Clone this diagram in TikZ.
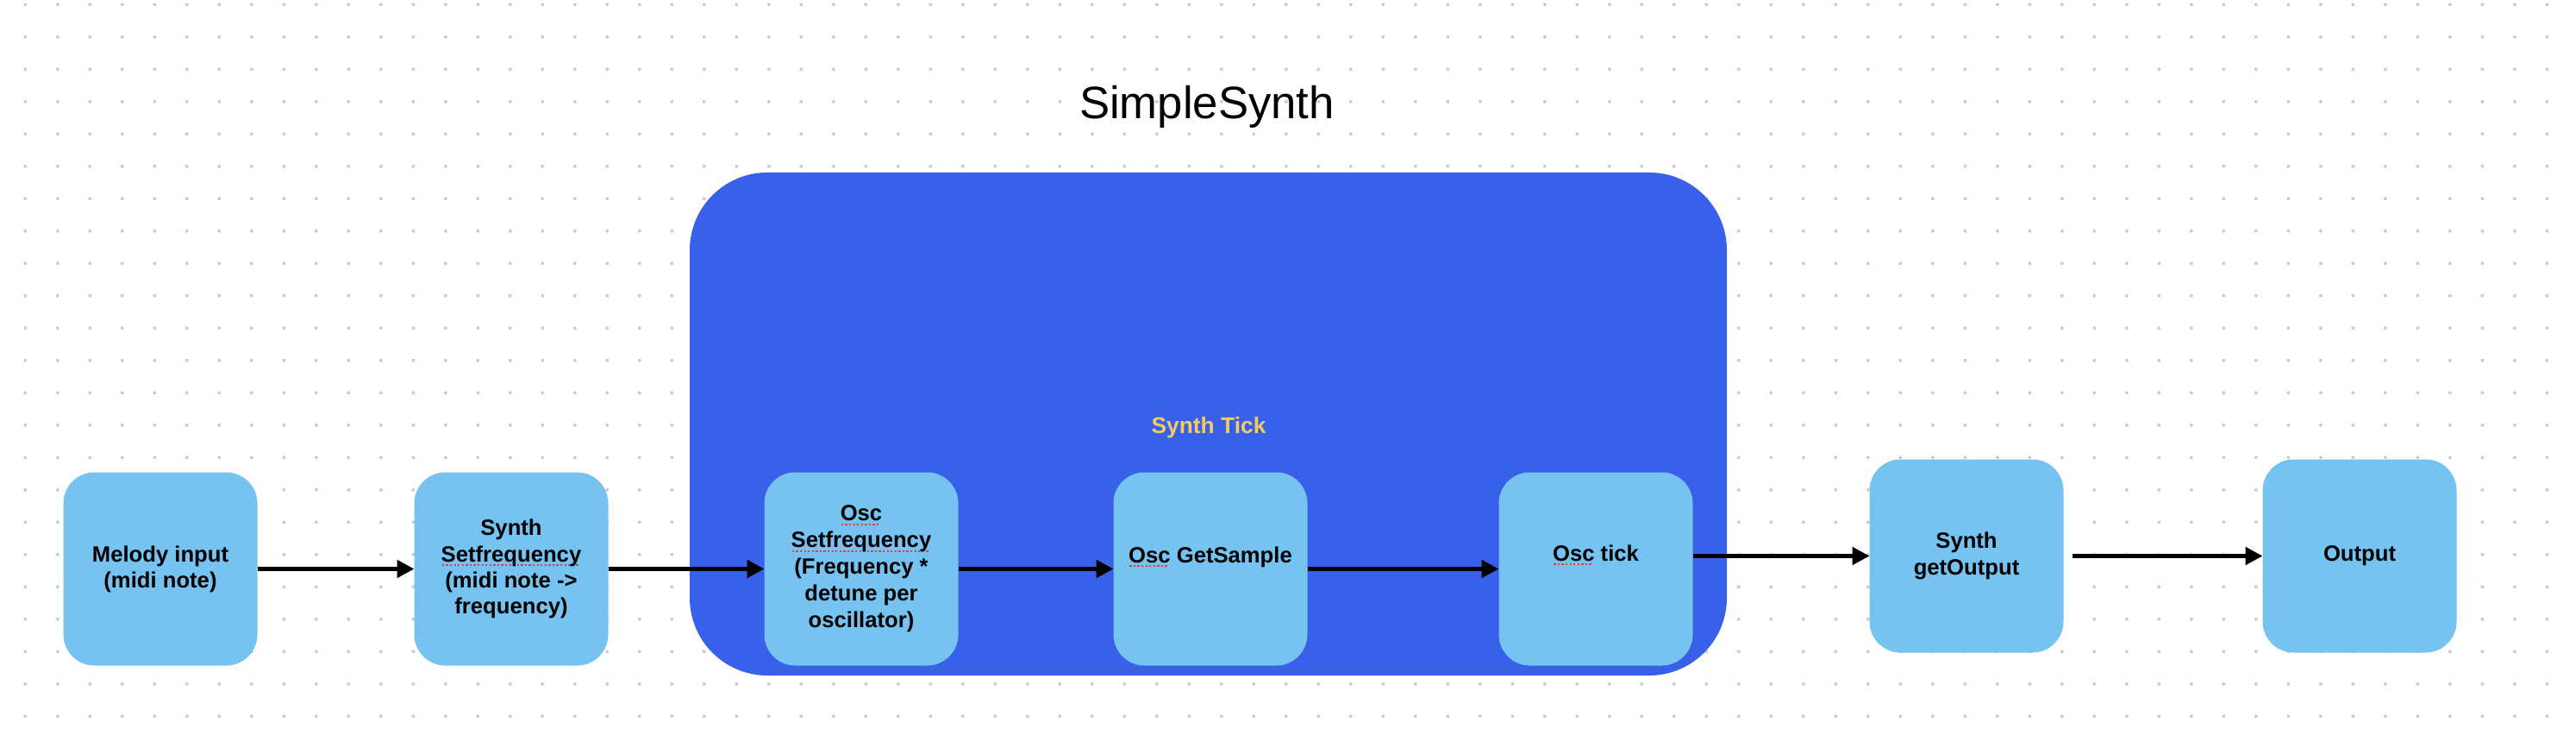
\documentclass[tikz,border=0pt]{standalone}
\usepackage{fontspec}
\setmainfont{Liberation Sans}
\usepackage{tikz}
\usetikzlibrary{positioning}
\usetikzlibrary{arrows.meta}

\definecolor{boxblue}{RGB}{118,194,240}
\definecolor{tickblue}{RGB}{56,96,233}
\definecolor{tickyellow}{RGB}{242,204,92}
\definecolor{dotgrey}{RGB}{204,204,208}
\definecolor{spellred}{RGB}{236,60,50}

% red dotted spell-check line under a word
\newcommand{\spellmark}[1]{%
    \setbox0=\hbox{#1}%
    \rlap{\raisebox{-1.4pt}{\color{spellred}\leaders\hbox to 1.3pt{\hss\rule{0.65pt}{0.6pt}\hss}\hskip\wd0}}%
    \box0\relax}

\begin{document}
\begin{tikzpicture}[
                block/.style = {
                    fill = boxblue,
                    rounded corners = 0.36cm,
                    minimum width = 2.25cm,
                    minimum height = 2.24cm,
                    align = center,
                    font = \bfseries\fontsize{7.3}{8.6}\selectfont,
                    inner sep = 0pt,
                    outer sep = 0pt
                },
                group/.style = {
                    fill = tickblue,
                    rounded corners = 0.9cm,
                    minimum width = 12.03cm,
                    minimum height = 5.83cm,
                    inner sep = 0pt
                },
                flow/.style = {
                    draw,
                    line width = 0.05cm,
                    -{Triangle[length=0.2cm, width=0.2cm]}
                },
                node distance = {1.82cm}
            ]

            \useasboundingbox (0,0) rectangle (29.88,-8.52);

            % dotted canvas
            \foreach \i in {0,...,78}
                \foreach \j in {0,...,22}
                    \fill[dotgrey] (0.293+0.375*\i, -0.053-0.375*\j) circle (0.02);

            \node[anchor=base, font=\fontsize{15}{18}\selectfont] (title) at (14.0,-1.38) {SimpleSynth};

            \node[group] (tick) at (14.015,-4.915) {};
            \node[anchor=base, text=tickyellow, font=\bfseries\fontsize{7.5}{9}\selectfont] (ticklabel) at (14.02,-5.03) {Synth Tick};

            \node[block] (melody) at (1.86,-6.595) {Melody input\\(midi note)};
            \node[block, right=1.82cm of melody] (synthfreq) {Synth\\\spellmark{Setfrequency}\\(midi note ->\\frequency)};
            \node[block, right=1.81cm of synthfreq, font=\bfseries\fontsize{7.3}{8.8}\selectfont] (oscfreq) {\spellmark{Osc}\\\spellmark{Setfrequency}\\(Frequency *\\detune per\\oscillator)};
            \node[block, right=1.80cm of oscfreq] (getsample) {};
            \node[block, right=2.22cm of getsample] (osctick) {};

            \node[block, right=2.05cm of osctick, yshift=0.15cm] (getout) {Synth\\getOutput};
            \node[block, right=2.31cm of getout] (output) {Output};

            % text sits a bit above the middle in these two
            \node[font=\bfseries\fontsize{7.3}{8.6}\selectfont, yshift=0.14cm] (getsampletext) at (getsample) {\spellmark{Osc} GetSample};
            \node[font=\bfseries\fontsize{7.3}{8.6}\selectfont, yshift=0.16cm] (oscticktext) at (osctick) {\spellmark{Osc} tick};

            \draw[flow] (melody) -- (synthfreq);
            \draw[flow] (synthfreq) -- (oscfreq);
            \draw[flow] (oscfreq) -- (getsample);
            \draw[flow] (getsample) -- (osctick);
            \draw[flow] (osctick.east |- getout.west) -- (getout.west);
            \draw[flow, shorten <= 1mm] (getout) -- (output);

\end{tikzpicture}
\end{document}
